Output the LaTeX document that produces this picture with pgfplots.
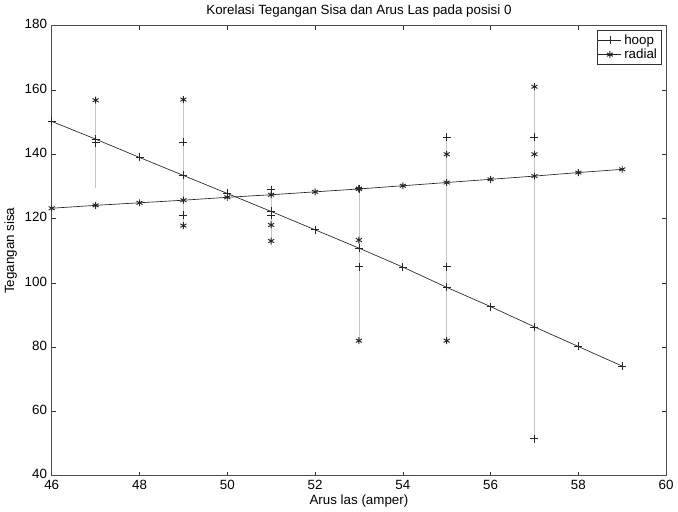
\documentclass[border=0pt]{standalone}
\usepackage{pgfplots}
\pgfplotsset{compat=1.18}
\usepackage{fontspec}
\setmainfont{Liberation Sans}
\newcommand{\lbl}{\fontsize{10}{12}\selectfont}
\begin{document}
\begin{tikzpicture}
\begin{axis}[
  scale only axis, width=460pt, height=337pt,
  xmin=46, xmax=60, ymin=40, ymax=180,
  xtick={46,48,...,60}, ytick={40,60,...,180},
  tick align=inside, major tick length=3pt,
  tick style={black!80, line width=0.4pt},
  axis line style={black!70, line width=0.5pt},
  title={Korelasi Tegangan Sisa dan Arus Las pada posisi 0},
  title style={font=\lbl, yshift=-3pt},
  xlabel={Arus las (amper)}, ylabel={Tegangan sisa},
  label style={font=\lbl},
  xlabel style={yshift=3pt}, ylabel style={yshift=-1pt},
  tick label style={font=\lbl},
  yticklabel style={yshift=1pt},
  /pgf/number format/assume math mode=true,
  legend style={at={(0.992,0.99)}, anchor=north east, draw=black!80,
    font=\lbl, inner sep=1pt, row sep=-2pt},
  legend cell align=left,
  unbounded coords=jump,
]
% range lines of the measured values
\addplot[gray!45, line width=0.4pt, forget plot] coordinates {
  (47,129.5) (47,156.8) (47,nan)
  (49,117.8) (49,157.0) (49,nan)
  (51,113.0) (51,129.0) (51,nan)
  (53,82.0) (53,129.3) (53,nan)
  (55,82.0) (55,145.4) (55,nan)
  (57,51.5) (57,161.0)
};
% fitted lines
\addplot[black!85, line width=0.5pt, mark=+, mark size=3pt] coordinates {
  (46,150.2) (47,144.7) (48,139.0) (49,133.4) (50,127.8) (51,122.2) (52,116.5)
  (53,110.8) (54,104.9) (55,98.6) (56,92.6) (57,86.3) (58,80.2) (59,74.1)
};
\addlegendentry{hoop}
\addplot[black!85, line width=0.5pt, mark=asterisk, mark size=2.6pt,
  mark options={line width=0.7pt}] coordinates {
  (46,123.2) (47,124.1) (48,124.9) (49,125.7) (50,126.6) (51,127.4) (52,128.3)
  (53,129.2) (54,130.2) (55,131.2) (56,132.2) (57,133.2) (58,134.3) (59,135.3)
};
\addlegendentry{radial}
% measured values
\addplot[only marks, black!85, mark=+, mark size=3pt, forget plot] coordinates {
  (47,143.6) (49,143.7) (49,121.0) (51,129.0) (51,121.0) (53,129.3) (53,105.0)
  (55,145.4) (55,105.0) (57,145.4) (57,51.5)
};
\addplot[only marks, black!85, mark=asterisk, mark size=2.6pt,
  mark options={line width=0.7pt}, forget plot] coordinates {
  (47,156.8) (49,157.0) (49,117.8) (51,118.0) (51,113.0) (53,129.3) (53,113.3)
  (53,82.0) (55,140.0) (55,82.0) (57,161.0) (57,140.0)
};
\end{axis}
\end{tikzpicture}
\end{document}
